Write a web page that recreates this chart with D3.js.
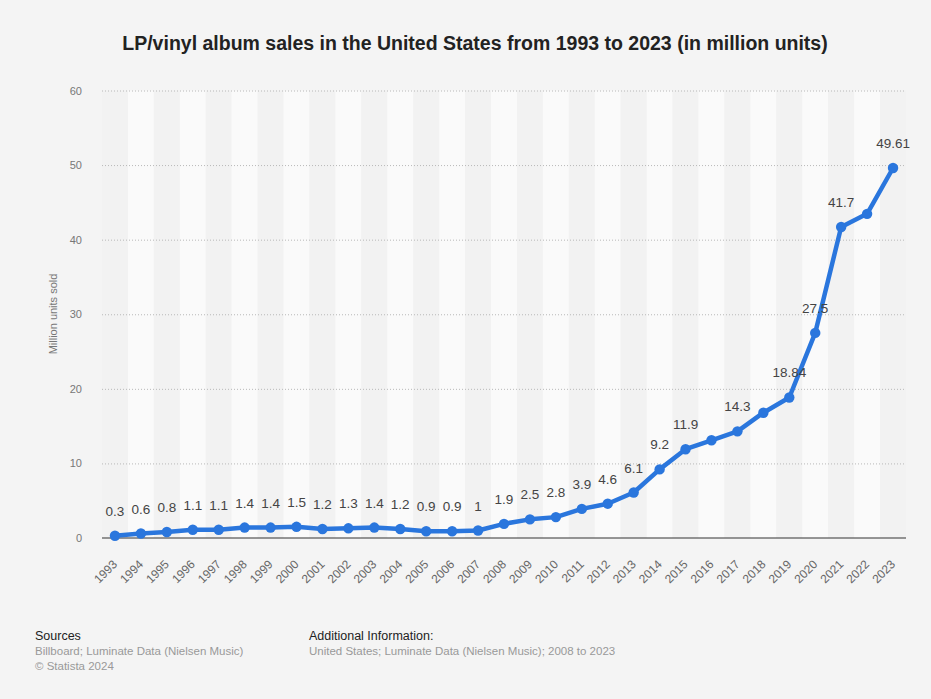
<!DOCTYPE html>
<html>
<head>
<meta charset="utf-8">
<script src="https://cdn.jsdelivr.net/npm/d3@7"></script>
<style>
  html, body { margin: 0; padding: 0; background: #f4f4f4; }
  svg { display: block; font-family: "Liberation Sans", Arial, sans-serif; }
</style>
</head>
<body>
<svg id="chart" width="931" height="699"></svg>
<script>
// Years on the x axis
const years = [1993, 1994, 1995, 1996, 1997, 1998, 1999, 2000, 2001, 2002,
  2003, 2004, 2005, 2006, 2007, 2008, 2009, 2010, 2011, 2012, 2013, 2014,
  2015, 2016, 2017, 2018, 2019, 2020, 2021, 2022, 2023];
// LP/vinyl album sales, million units
const sales = [0.3, 0.6, 0.8, 1.1, 1.1, 1.4, 1.4, 1.5, 1.2, 1.3, 1.4, 1.2,
  0.9, 0.9, 1, 1.9, 2.5, 2.8, 3.9, 4.6, 6.1, 9.2, 11.9, 13.1, 14.3, 16.8,
  18.84, 27.5, 41.7, 43.46, 49.61];
// Years whose value label is not printed
const unlabeledYears = [2016, 2018, 2022];
// Y axis ticks
const yTicks = [0, 10, 20, 30, 40, 50, 60];

const title = "LP/vinyl album sales in the United States from 1993 to 2023 (in million units)";
const yTitle = "Million units sold";

const svg = d3.select("#chart");
const W = 931, H = 699;
const plot = { left: 102, right: 906, top: 90.5, bottom: 538 };

svg.append("rect").attr("width", W).attr("height", H).attr("fill", "#f4f4f4");

const x = d3.scaleBand().domain(years).range([plot.left, plot.right]).padding(0);
const y = d3.scaleLinear().domain([0, 60]).range([plot.bottom, plot.top]);

// Alternating column bands
svg.append("g").selectAll("rect").data(years).join("rect")
  .attr("x", d => x(d))
  .attr("y", plot.top)
  .attr("width", x.bandwidth())
  .attr("height", plot.bottom - plot.top)
  .attr("fill", (d, i) => i % 2 === 0 ? "#f2f2f2" : "#fafafa");

// Horizontal dotted gridlines and y labels
const yAxis = d3.axisLeft(y).tickValues(yTicks).tickSize(-(plot.right - plot.left)).tickPadding(20);
const gy = svg.append("g").attr("transform", `translate(${plot.left},0)`).call(yAxis);
gy.select(".domain").remove();
gy.selectAll(".tick line")
  .attr("stroke", "#b8b8b8").attr("stroke-width", 1).attr("stroke-dasharray", "1,2")
  .filter(d => d === 0).remove();
gy.selectAll(".tick text").attr("fill", "#777").attr("font-size", 11)
  .attr("font-family", "'Liberation Sans', Arial, sans-serif");

// Baseline
svg.append("line")
  .attr("x1", plot.left).attr("x2", plot.right)
  .attr("y1", y(0)).attr("y2", y(0))
  .attr("stroke", "#333").attr("stroke-width", 1.2);

// X axis labels, rotated
const xAxis = d3.axisBottom(x).tickSize(0).tickPadding(0);
const gx = svg.append("g").attr("transform", `translate(0,${plot.bottom})`).call(xAxis);
gx.select(".domain").remove();
gx.selectAll(".tick text")
  .attr("fill", "#666").attr("font-size", 12)
  .attr("font-family", "'Liberation Sans', Arial, sans-serif")
  .attr("text-anchor", "end")
  .attr("dy", 0)
  .attr("transform", "translate(3,27) rotate(-45)");

// Y axis title
svg.append("text")
  .attr("transform", `translate(57,314) rotate(-90)`)
  .attr("text-anchor", "middle")
  .attr("fill", "#777").attr("font-size", 11)
  .text(yTitle);

// Line series
const data = years.map((yr, i) => ({ year: yr, value: sales[i] }));
const cx = d => x(d.year) + x.bandwidth() / 2;
const line = d3.line().x(cx).y(d => y(d.value));

svg.append("path").datum(data)
  .attr("fill", "none")
  .attr("stroke", "#2a76dd")
  .attr("stroke-width", 4.5)
  .attr("stroke-linejoin", "round")
  .attr("d", line);

svg.append("g").selectAll("circle").data(data).join("circle")
  .attr("cx", cx).attr("cy", d => y(d.value))
  .attr("r", 5.2)
  .attr("fill", "#2a76dd");

// Value labels
svg.append("g").selectAll("text")
  .data(data.filter(d => !unlabeledYears.includes(d.year)))
  .join("text")
  .attr("x", cx)
  .attr("y", d => y(d.value) - 20)
  .attr("text-anchor", "middle")
  .attr("fill", "#444").attr("font-size", 13.5)
  .text(d => d3.format("~g")(d.value));

// Title
svg.append("text")
  .attr("x", 475).attr("y", 50)
  .attr("text-anchor", "middle")
  .attr("font-weight", "bold").attr("font-size", 19.5)
  .attr("fill", "#222")
  .text(title);

// Footer
const foot = svg.append("g").attr("font-size", 11.5);
foot.append("text").attr("x", 35).attr("y", 640).attr("fill", "#222").attr("font-size", 12.5).text("Sources");
foot.append("text").attr("x", 35).attr("y", 655).attr("fill", "#999").text("Billboard; Luminate Data (Nielsen Music)");
foot.append("text").attr("x", 35).attr("y", 670).attr("fill", "#999").text("© Statista 2024");
foot.append("text").attr("x", 309).attr("y", 640).attr("fill", "#222").attr("font-size", 12.5).text("Additional Information:");
foot.append("text").attr("x", 309).attr("y", 655).attr("fill", "#999").text("United States; Luminate Data (Nielsen Music); 2008 to 2023");
</script>
</body>
</html>
